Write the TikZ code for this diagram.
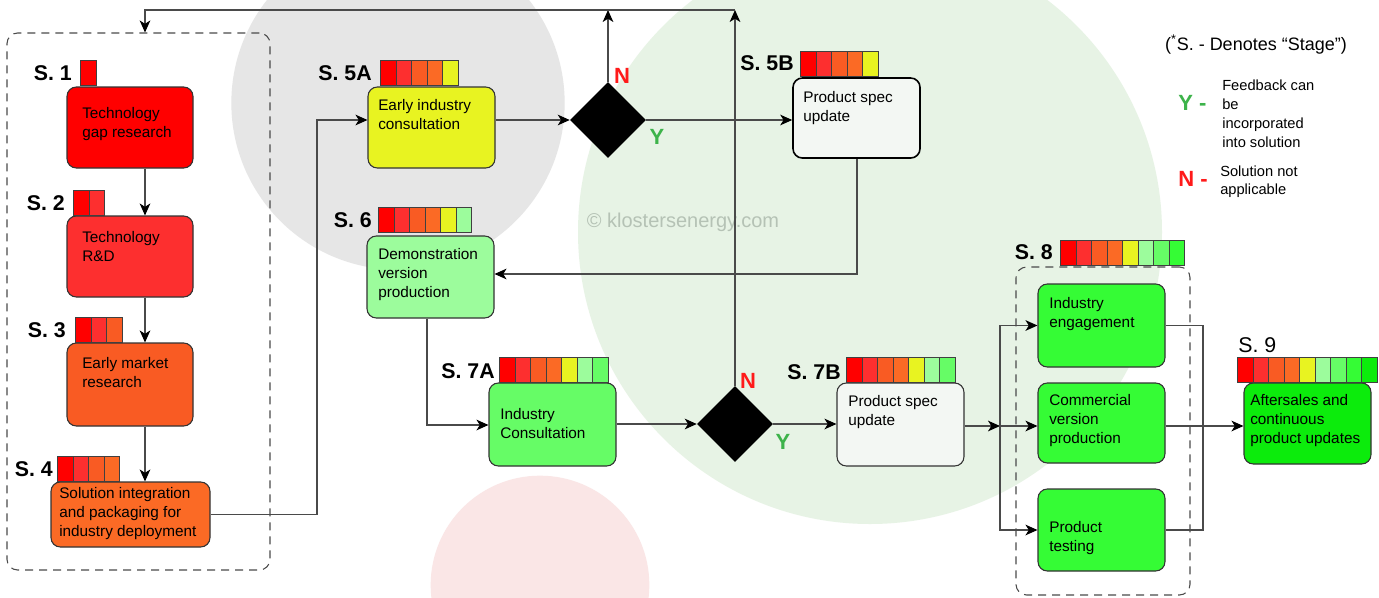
\documentclass[tikz,border=0pt]{standalone}
\usepackage{fontspec}
\setmainfont{Liberation Sans}
\usetikzlibrary{arrows.meta,shapes.geometric}
\definecolor{c1}{HTML}{FF0000}
\definecolor{c2}{HTML}{FD2F2F}
\definecolor{c3}{HTML}{F95B23}
\definecolor{c4}{HTML}{FB6A25}
\definecolor{c5}{HTML}{E8F321}
\definecolor{c6}{HTML}{9CFC9C}
\definecolor{c7}{HTML}{66FC66}
\definecolor{c8}{HTML}{35FC35}
\definecolor{c9}{HTML}{0CEC0C}
\definecolor{bggray}{HTML}{E6E6E6}
\definecolor{bggreen}{HTML}{E7F3E5}
\definecolor{bgpink}{HTML}{FAE6E6}
\definecolor{linecol}{HTML}{4A4A4A}
\definecolor{specfill}{HTML}{F3F7F3}
\definecolor{ygreen}{HTML}{3DB34A}
\definecolor{nred}{HTML}{FF1A1A}
\definecolor{wm}{HTML}{B5C2B5}
\newcommand{\mkbox}[6]{\node[box, fill=#6, minimum width={(#4-#2)*0.75pt}, minimum height={(#5-#3)*0.75pt}] (#1) at ({(#2+#4)/2},{(#3+#5)/2}) {};}
\newcommand{\mkcells}[4]{\foreach \i in {1,...,#4}{\node[cell, fill=c\i, anchor=south west] (#1c\i) at ({#2+(\i-1)*15.5},#3) {};}}
\newcommand{\mktxt}[4]{\node[txt] (#1) at (#2,#3) {#4};}
\begin{document}
\begin{tikzpicture}[x=0.75pt,y=-0.75pt,
  box/.style={draw=black!80, line width=0.8pt, rounded corners=7pt, inner sep=0pt},
  cell/.style={draw=black!75, line width=0.6pt, inner sep=0pt, minimum width=11.625pt, minimum height=18.75pt},
  conn/.style={draw=linecol, line width=0.9pt},
  arr/.style={conn, -{Stealth[length=9pt,width=8pt,inset=2.5pt,color=black]}},
  stg/.style={font=\fontsize{16}{19}\selectfont\bfseries, anchor=east, inner sep=0pt},
  txt/.style={font=\fontsize{11.5}{14.25}\selectfont, align=left, anchor=north west, inner sep=0pt},
  dashbox/.style={draw=linecol, line width=0.8pt, dash pattern=on 6pt off 4.5pt, rounded corners=8pt, inner sep=0pt},
  dia/.style={diamond, fill=black, inner sep=0pt, minimum width=57pt, minimum height=57pt},
  yn/.style={font=\fontsize{16.5}{19}\selectfont\bfseries, inner sep=0pt}
]
\useasboundingbox (0,0) rectangle (1379,597);
\fill[white] (0,0) rectangle (1379,597);
\begin{scope}
\clip (0,0) rectangle (1379,597);
\fill[bggray] (398,103) circle[radius=125pt];
\fill[bggreen] (870,232) circle[radius=219pt];
\fill[bgpink] (540,585) circle[radius=82pt];
\end{scope}
\node[text=wm, font=\fontsize{15}{18}\selectfont, inner sep=0pt] (wmark) at (683,222) {© klostersenergy.com};

% containers
\node[dashbox, minimum width={263*0.75pt}, minimum height={537*0.75pt}] (grpA) at (138.5,301.5) {};
\node[dashbox, minimum width={174*0.75pt}, minimum height={328*0.75pt}] (grpB) at (1103,431) {};

% boxes
\mkbox{S1}{67}{87}{193}{168}{c1}
\mkbox{S2}{67}{216}{193}{297}{c2}
\mkbox{S3}{67}{343}{193}{426}{c3}
\mkbox{S4}{51}{482}{210}{547}{c4}
\mkbox{S5A}{368}{87}{495}{168}{c5}
\node[box, draw=black, line width=1.2pt, fill=specfill, minimum width={127*0.75pt}, minimum height={80*0.75pt}] (S5B) at (856.5,118) {};
\mkbox{S6}{367}{236}{494}{318}{c6}
\mkbox{S7A}{489}{383}{616}{466}{c7}
\mkbox{S7B}{837}{383}{964}{466}{specfill}
\mkbox{IE}{1038}{284}{1165}{367}{c8}
\mkbox{CVP}{1038}{383}{1165}{463}{c8}
\mkbox{PT}{1038}{489}{1165}{571}{c8}
\mkbox{S9}{1244}{383}{1371}{464}{c9}
\node[dia] (d1) at (608,120) {};
\node[dia] (d2) at (735,424) {};

% connectors
\coordinate (colx) at (145,0);
\coordinate (t1) at (145,10);
\coordinate (t2) at (735,10);
\draw[arr] (S1.south -| colx) -- (S2.north -| colx);
\draw[arr] (S2.south -| colx) -- (S3.north -| colx);
\draw[arr] (S3.south -| colx) -- (S4.north -| colx);
\draw[arr] (d1.north) -- (d1.north |- t1);
\draw[arr] (d2.north) -- (t2);
\draw[arr] (t2) -- (t1) -- (t1 |- grpA.north);
\coordinate (j1) at (317,120);
\draw[arr] (S4.east) -| (j1) -- (j1 -| S5A.west);
\draw[arr] (S5A.east |- d1) -- (d1.west);
\draw[arr] (d1.east) -- (d1.east -| S5B.west);
\coordinate (j2) at (857,274);
\draw[arr] (S5B.south -| j2) -- (j2) -- (j2 -| S6.east);
\coordinate (j3) at (427,425);
\draw[arr] (S6.south -| j3) -- (j3) -- (j3 -| S7A.west);
\draw[arr] (S7A.east |- d2) -- (d2.west);
\draw[arr] (d2.east) -- (d2.east -| S7B.west);
\coordinate (sp) at (1000,426);
\draw[arr] (S7B.east |- sp) -- (sp);
\draw[arr] (sp) |- (IE.west);
\draw[arr] (sp) |- (PT.west);
\draw[arr] (sp) -- (sp -| CVP.west);
\coordinate (mx) at (1203,426);
\draw[conn] (IE.east) -| (mx) |- (PT.east);
\draw[arr] (CVP.east |- mx) -- (mx -| S9.west);

% cells
\mkcells{S1}{80}{86}{1}
\mkcells{S2}{73}{216}{2}
\mkcells{S3}{75}{343}{3}
\mkcells{S4}{57}{482}{4}
\mkcells{S5A}{380}{86}{5}
\mkcells{S5B}{800}{77}{5}
\mkcells{S6}{378}{233}{6}
\mkcells{S7A}{499}{383}{7}
\mkcells{S7B}{846}{383}{7}
\mkcells{S8}{1060}{266}{8}
\mkcells{S9}{1237}{383}{9}

% stage labels
\node[stg] (l1) at (72,73) {S. 1};
\node[stg] (l2) at (65,203) {S. 2};
\node[stg] (l3) at (66,330) {S. 3};
\node[stg] (l4) at (53,469) {S. 4};
\node[stg] (l5a) at (372,73) {S. 5A};
\node[stg] (l5b) at (794,63) {S. 5B};
\node[stg] (l6) at (372,220) {S. 6};
\node[stg] (l7a) at (495,371) {S. 7A};
\node[stg] (l7b) at (841,372) {S. 7B};
\node[stg] (l8) at (1053,252) {S. 8};
\node[font=\fontsize{16}{19}\selectfont, anchor=west, inner sep=0pt] (l9) at (1238,345) {S. 9};

% box texts
\mktxt{x1}{82}{107}{Technology\\gap research}
\mktxt{x2}{82}{231}{Technology\\R\&D}
\mktxt{x3}{82}{357}{Early market\\research}
\mktxt{x4}{59}{487}{Solution integration\\and packaging for\\industry deployment}
\mktxt{x5a}{378}{99}{Early industry\\consultation}
\mktxt{x5b}{803}{91}{Product spec\\update}
\mktxt{x6}{378}{248}{Demonstration\\version\\production}
\mktxt{x7a}{500}{408}{Industry\\Consultation}
\mktxt{x7b}{848}{395}{Product spec\\update}
\mktxt{xie}{1049}{297}{Industry\\engagement}
\mktxt{xcvp}{1049}{394}{Commercial\\version\\production}
\mktxt{xpt}{1049}{521}{Product\\testing}
\mktxt{x9}{1250}{394}{Aftersales and\\continuous\\product updates}

% Y / N labels
\node[yn, text=nred] (n1) at (622,76) {N};
\node[yn, text=ygreen] (y1) at (657,137) {Y};
\node[yn, text=nred] (n2) at (748,381) {N};
\node[yn, text=ygreen] (y2) at (783,442) {Y};

% legend
\node[font=\fontsize{13.5}{16}\selectfont, inner sep=0pt] (leg) at (1256,45) {(\textsuperscript{*}S. - Denotes “Stage”)};
\node[yn, text=ygreen, anchor=west] (legy) at (1178,103) {Y -};
\node[font=\fontsize{11}{14.25}\selectfont, align=left, anchor=north west, inner sep=0pt] (legyt) at (1222,80) {Feedback can\\be\\incorporated\\into solution};
\node[yn, text=nred, anchor=west] (legn) at (1178,179) {N -};
\node[font=\fontsize{11}{13.5}\selectfont, align=left, anchor=north west, inner sep=0pt] (legnt) at (1220,166) {Solution not\\applicable};
\end{tikzpicture}
\end{document}
